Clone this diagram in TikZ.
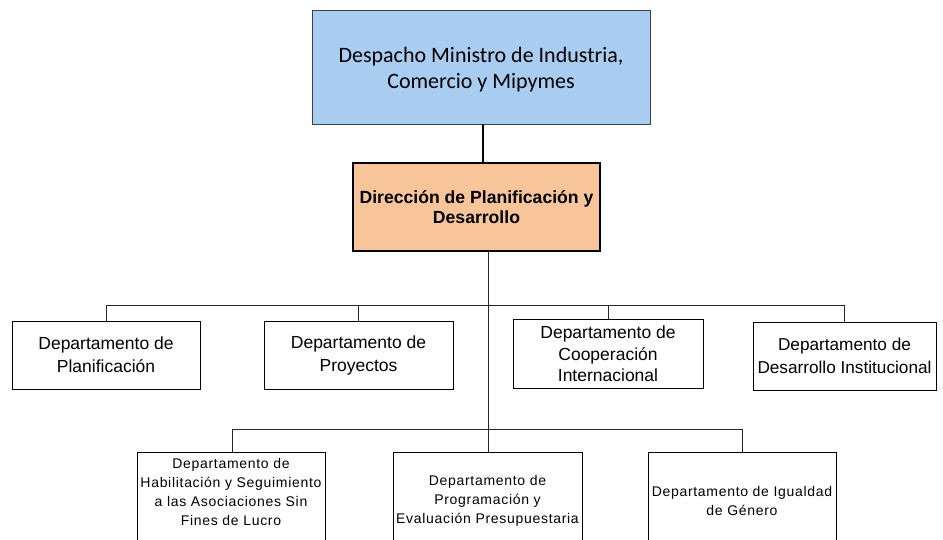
\documentclass[tikz,border=0pt]{standalone}
\usepackage{fontspec}
\setmainfont{Liberation Sans}
\newfontfamily\calfont{Carlito}
\newfontfamily\spfont[LetterSpace=5]{Liberation Sans}
\definecolor{topblue}{HTML}{A9CDF1}
\definecolor{dirorange}{HTML}{F8C59B}
\begin{document}
\begin{tikzpicture}[x=1pt,y=-1pt,
  topbox/.style={draw=black!75, line width=0.9pt, fill=topblue, inner sep=0pt},
  dirbox/.style={draw=black, line width=2.6pt, fill=dirorange, inner sep=0pt},
  deptbox/.style={draw=black, line width=0.9pt, fill=white, inner sep=0pt, align=center, font=\fontsize{17.5}{23}\selectfont},
  lowbox/.style={draw=black, line width=0.9pt, fill=white, inner sep=0pt},
  lowtext/.style={align=center, inner sep=0pt, font=\spfont\fontsize{14}{19}\selectfont},
  conn/.style={draw=black!85, line width=0.9pt}
]
\useasboundingbox (0,0) rectangle (943,540);
\clip (0,0) rectangle (943,540);
\fill[white] (0,0) rectangle (943,540);

\node[topbox, minimum width=338, minimum height=114] (top) at (481,67) {};
\node[align=center, inner sep=0pt, font=\calfont\fontsize{22}{26.5}\selectfont] (toptext) at ([yshift=-2.5]top.center)
  {Despacho Ministro de Industria,\\Comercio y Mipymes};

\node[dirbox, minimum width=247, minimum height=88, align=center,
  font=\bfseries\fontsize{17.6}{20.5}\selectfont] (dir) at (476.5,207)
  {Dirección de Planificación y\\Desarrollo};

\draw[black, line width=2pt] ([xshift=2pt]top.south) -- ([xshift=2pt]top.south |- dir.north);

% row 2
\node[deptbox, minimum width=188, minimum height=68] (d1) at (106,355) {Departamento de\\Planificación};
\node[deptbox, minimum width=189, minimum height=68] (d2) at (358.5,355) {Departamento de\\Proyectos};
\node[deptbox, minimum width=190, minimum height=69, font=\fontsize{17.5}{21.5}\selectfont] (d3) at (608,354) {Departamento de\\Cooperación\\Internacional};
\node[deptbox, minimum width=183, minimum height=68, font=\fontsize{17.2}{23}\selectfont] (d4) at (844.5,356) {Departamento de\\Desarrollo Institucional};

% row 3
\node[lowbox, minimum width=188, minimum height=120, anchor=north] (b5) at (231,452) {};
\node[lowbox, minimum width=189, minimum height=120, anchor=north] (b6) at (487.5,452) {};
\node[lowbox, minimum width=188, minimum height=120, anchor=north] (b7) at (742,452) {};
\node[lowtext] (t5) at ([yshift=-40]b5.north) {Departamento de\\Habilitación y Seguimiento\\a las Asociaciones Sin\\Fines de Lucro};
\node[lowtext] (t6) at ([yshift=-49]b6.north) {Departamento de\\Programación y\\Evaluación Presupuestaria};
\node[lowtext] (t7) at ([yshift=-48.5]b7.north) {Departamento de Igualdad\\de Género};

% connectors
\coordinate (trunk) at ([xshift=11.5]dir.south);
\coordinate (bus2) at (0,305);
\coordinate (bus3) at (0,429);
\draw[conn] (trunk) -- (trunk |- b6.north);
\draw[conn] (d1.north -| 106,0) |- (bus2 -| d4.north) -- (d4.north);
\draw[conn] (d2.north) -- (d2.north |- bus2);
\draw[conn] (d3.north) -- (d3.north |- bus2);
\draw[conn] (b5.north -| 232,0) |- (bus3 -| b7.north) -- (b7.north);
\end{tikzpicture}
\end{document}
